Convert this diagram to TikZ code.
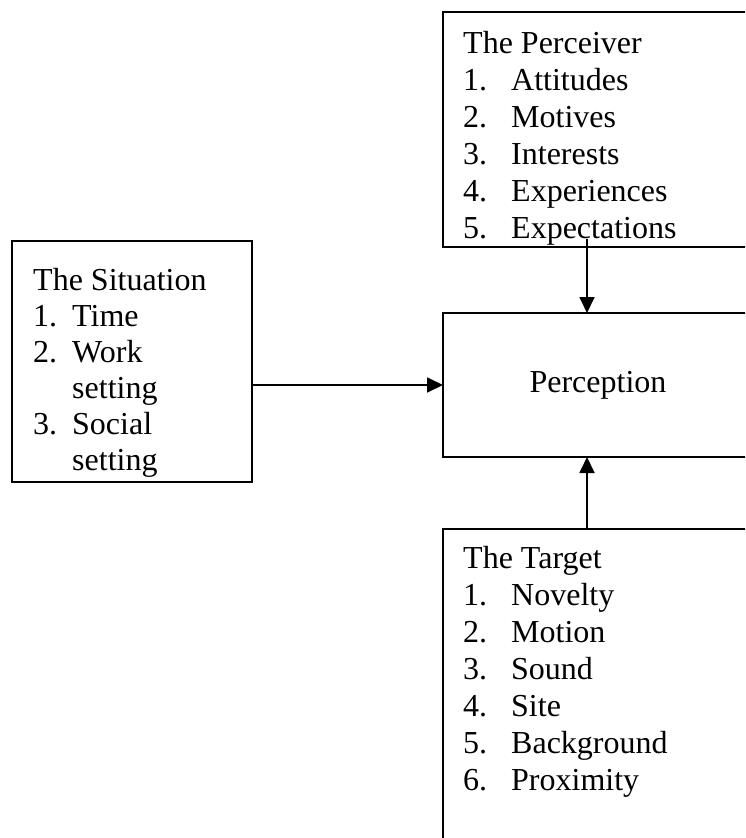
\documentclass[tikz,border=0pt]{standalone}
\usepackage{fontspec}
\setmainfont{Liberation Serif}
\usetikzlibrary{arrows.meta}

\begin{document}
\begin{tikzpicture}[x=1pt,y=-1pt]
    \tikzstyle{every node}=[font=\fontsize{32}{37}\selectfont]
    \tikzstyle{box}=[draw, line width=1.8pt, rectangle, inner sep=0pt, outer sep=0pt, anchor=north west]
    \tikzstyle{list}=[anchor=base west, inner sep=0pt]
    \tikzstyle{link}=[line width=1.8pt, -{Triangle[width=15pt,length=16pt]}]

    \useasboundingbox (0,0) rectangle (745,838);
    \clip (0,0) rectangle (745,838);

    % Boxes
    \node[box, minimum width=310, minimum height=235] at (443,12) (Bper) {};
    \node[box, minimum width=240, minimum height=241] at (12,241) (Bsit) {};
    \node[box, minimum width=310, minimum height=144] at (443,313) (Bpcp) {Perception};
    \node[box, minimum width=310, minimum height=400] at (443,529) (Btgt) {};

    % Lists
    \node[list] at ([shift={(20,41)}]Bper.north west) (Lper) {\begin{tabular}[t]{@{}p{48pt}@{}l@{}}
        \multicolumn{2}{@{}l@{}}{The Perceiver}\\
        1. & Attitudes\\
        2. & Motives\\
        3. & Interests\\
        4. & Experiences\\
        5. & Expectations
    \end{tabular}};
    \node[list, font=\fontsize{32}{36}\selectfont] at ([shift={(21,49)}]Bsit.north west) (Lsit) {\begin{tabular}[t]{@{}p{39pt}@{}l@{}}
        \multicolumn{2}{@{}l@{}}{The Situation}\\
        1. & Time\\
        2. & Work\\
           & setting\\
        3. & Social\\
           & setting
    \end{tabular}};
    \node[list] at ([shift={(20,39)}]Btgt.north west) (Ltgt) {\begin{tabular}[t]{@{}p{48pt}@{}l@{}}
        \multicolumn{2}{@{}l@{}}{The Target}\\
        1. & Novelty\\
        2. & Motion\\
        3. & Sound\\
        4. & Site\\
        5. & Background\\
        6. & Proximity
    \end{tabular}};

    % Arrows
    \draw[link] (Bsit.east |- Bpcp.west) -- (Bpcp.west);
    \draw[link] ([shift={(-11,-8)}]Bper.south) -- ([xshift=-11pt]Bpcp.north);
    \draw[link] ([xshift=-11pt]Btgt.north) -- ([xshift=-11pt]Bpcp.south);

\end{tikzpicture}
\end{document}
